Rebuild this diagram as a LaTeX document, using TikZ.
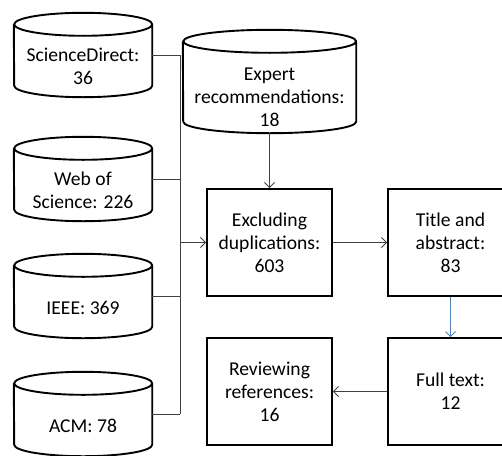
\documentclass[tikz,border=0pt]{standalone}
\usepackage{fontspec}
\setmainfont{Carlito}
\usetikzlibrary{arrows.meta}
\tikzset{database/.style={rectangle,minimum width=138pt,minimum height=84pt,inner sep=0pt},
	drumline/.style={draw,line width=1.9pt,line join=round},
	dbtext/.style={align=center,inner sep=0pt},
	stage/.style={rectangle,draw,line width=1.9pt,minimum width=125pt,
		minimum height=107pt,inner sep=0pt,align=center},
	link/.style={draw=black!75,line width=0.8pt},
	flow/.style={link,-{Straight Barb[length=5pt,width=10pt]}}}
% cylinder outline round a named node: #1 name, #2 half width
\newcommand{\drum}[2]{%
	\draw[drumline] ([yshift=-11.5pt]#1.north east)
		arc[start angle=0,end angle=360,x radius=#2,y radius=11.5pt]
		-- ([yshift=11.5pt]#1.south east)
		arc[start angle=0,end angle=-180,x radius=#2,y radius=11.5pt]
		-- ([yshift=-11.5pt]#1.north west);}

\begin{document}
\begin{tikzpicture}[x=1pt,y=-1pt,font=\fontsize{19.6}{23}\selectfont]
	\useasboundingbox (0,0) rectangle (502,455);
	% sources
	\node[database] (sd) at (83,55) {};
	\node[dbtext] (sd-t) at ([yshift=-11pt]sd.center) {ScienceDirect:\\36};
	\node[database] (wos) at (83,179) {};
	\node[dbtext] (wos-t) at ([yshift=-11pt]wos.center) {Web of\\Science: 226};
	\node[database] (ieee) at (83,296) {};
	\node[dbtext] (ieee-t) at ([yshift=-12pt]ieee.center) {IEEE: 369};
	\node[database] (acm) at (83,414) {};
	\node[dbtext] (acm-t) at ([yshift=-12pt]acm.center) {ACM: 78};
	\node[database,minimum width=173pt,minimum height=103pt] (expert) at (269.5,81.5) {};
	\node[dbtext] (expert-t) at ([yshift=-16pt]expert.center)
		{Expert\\recommendations:\\18};
	\drum{sd}{69pt}
	\drum{wos}{69pt}
	\drum{ieee}{69pt}
	\drum{acm}{69pt}
	\drum{expert}{86.5pt}
	% screening
	\node[stage] (excl) at (269.5,242.5) {Excluding\\duplications:\\603};
	\node[stage] (title) at (450.5,242.5) {Title and\\abstract:\\83};
	\node[stage] (full) at (450.5,391.5) {Full text:\\12};
	\node[stage] (review) at (269.5,391.5) {Reviewing\\references:\\16};
	% links
	\coordinate (bus) at (180,0);
	\foreach \n in {sd,wos,ieee,acm}
		\draw[link] (\n.east) -- (\n.east -| bus);
	\draw[link] (sd.east -| bus) -- (acm.east -| bus);
	\draw[flow] (excl.west -| bus) -- (excl.west);
	\draw[flow] (expert.south) -- (excl.north);
	\draw[flow] (excl.east) -- (title.west);
	\draw[flow,draw={rgb,255:red,79;green,129;blue,189}] (title.south) -- (full.north);
	\draw[flow] (full.west) -- (review.east);
\end{tikzpicture}
\end{document}
